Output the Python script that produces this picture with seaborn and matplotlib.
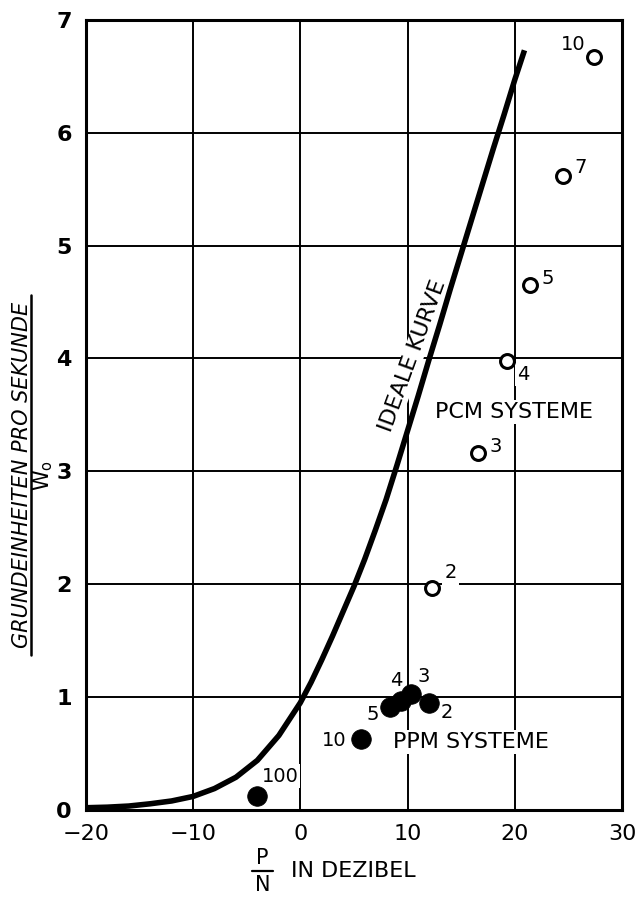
import numpy as np
import pandas as pd
import matplotlib
matplotlib.use('Agg')
import matplotlib.pyplot as plt
import seaborn as sns
from matplotlib.lines import Line2D

# ideale Kurve
curve_x = [-20, -18, -16, -14, -12, -10, -8, -6, -4, -2, 0, 1, 2, 3, 4, 5, 6, 7, 8,
           9, 10, 11, 12, 13, 14, 15, 16, 17, 18, 19, 20, 20.9]
curve_y = [0.02, 0.025, 0.035, 0.055, 0.08, 0.12, 0.19, 0.29, 0.44, 0.66, 0.95,
           1.13, 1.33, 1.54, 1.76, 1.98, 2.22, 2.48, 2.75, 3.05, 3.36, 3.67, 3.99,
           4.3, 4.62, 4.93, 5.24, 5.55, 5.86, 6.16, 6.47, 6.73]

# PCM Systeme (offene Kreise)
pcm_x = [12.3, 16.6, 19.3, 21.4, 24.5, 27.4]
pcm_y = [1.97, 3.16, 3.98, 4.65, 5.62, 6.67]
pcm_lab = ['2', '3', '4', '5', '7', '10']

# PPM Systeme (volle Punkte)
ppm_x = [12.0, 10.3, 9.4, 8.4, 5.7, -4.0]
ppm_y = [0.95, 1.03, 0.97, 0.91, 0.63, 0.12]
ppm_lab = ['2', '3', '4', '5', '10', '100']

x_ticks = [-20, -10, 0, 10, 20, 30]
y_ticks = [0, 1, 2, 3, 4, 5, 6, 7]

sns.set_theme(style='white')
plt.rcParams['font.family'] = ['DejaVu Sans']
plt.rcParams['text.color'] = 'black'
plt.rcParams['xtick.color'] = 'black'
plt.rcParams['ytick.color'] = 'black'

fig = plt.figure(figsize=(6.4, 9), dpi=100)
ax = fig.add_axes([0.134, 0.1, 0.838, 0.878])

df_curve = pd.DataFrame({'x': curve_x, 'y': curve_y})
df_pcm = pd.DataFrame({'x': pcm_x, 'y': pcm_y, 'lab': pcm_lab})
df_ppm = pd.DataFrame({'x': ppm_x, 'y': ppm_y, 'lab': ppm_lab})

# Gitter
for v in x_ticks:
    ax.axvline(v, color='black', lw=1.4, zorder=1)
for v in y_ticks:
    ax.axhline(v, color='black', lw=1.4, zorder=1)

sns.lineplot(data=df_curve, x='x', y='y', ax=ax, color='black', lw=4, zorder=5,
             sort=False, solid_capstyle='butt')
sns.scatterplot(data=df_pcm, x='x', y='y', ax=ax, s=100, facecolor='white',
                edgecolor='black', linewidth=2.2, zorder=6)
sns.scatterplot(data=df_ppm, x='x', y='y', ax=ax, s=200, color='black',
                edgecolor='black', linewidth=0.5, zorder=6)

box = dict(facecolor='white', edgecolor='none', pad=1.5)

pcm_pos = {'2': (14.0, 2.1), '3': (18.2, 3.22), '4': (20.8, 3.86),
           '5': (23.1, 4.71), '7': (26.1, 5.69), '10': (25.4, 6.78)}
for lab, (tx, ty) in pcm_pos.items():
    ax.text(tx, ty, lab, fontsize=14, ha='center', va='center', bbox=box, zorder=4)

ppm_pos = {'2': (13.7, 0.86), '3': (11.5, 1.18), '4': (8.9, 1.15),
           '5': (6.8, 0.85), '10': (3.2, 0.62), '100': (-1.9, 0.3)}
for lab, (tx, ty) in ppm_pos.items():
    ax.text(tx, ty, lab, fontsize=14, ha='center', va='center', bbox=box, zorder=4)

ax.text(19.9, 3.53, 'PCM SYSTEME', fontsize=16, ha='center', va='center', bbox=box, zorder=4)
ax.text(15.9, 0.60, 'PPM SYSTEME', fontsize=16, ha='center', va='center', bbox=box, zorder=4)
ax.text(10.5, 4.02, 'IDEALE KURVE', fontsize=16, ha='center', va='center', rotation=70,
        bbox=dict(facecolor='white', edgecolor='none', pad=0.5), zorder=4)

ax.set_xlim(-20, 30)
ax.set_ylim(0, 7)
ax.set_xticks(x_ticks)
ax.set_yticks(y_ticks)
ax.set_xticklabels(['\u221220', '\u221210', '0', '10', '20', '30'], fontsize=16)
ax.set_yticklabels([str(v) for v in y_ticks], fontsize=16, fontweight='bold')
ax.tick_params(axis='x', direction='out', length=6, width=1.4, pad=4)
ax.tick_params(axis='y', length=0, pad=10)
ax.set_xlabel('')
ax.set_ylabel('')
for sp in ax.spines.values():
    sp.set_color('black')
    sp.set_linewidth(2.2)

# y-Achsenbeschriftung als Bruch
fig.text(0.034, 0.472, 'GRUNDEINHEITEN PRO SEKUNDE', rotation=90, fontsize=15,
         style='italic', ha='center', va='center')
fig.add_artist(Line2D([0.049, 0.049], [0.272, 0.672], color='black', lw=1.8,
                      transform=fig.transFigure))
fig.text(0.068, 0.472, r'W$_\mathregular{o}$', rotation=90, fontsize=15,
         ha='center', va='center')

# x-Achsenbeschriftung als Bruch
fig.text(0.41, 0.047, 'P', fontsize=15, ha='center', va='center')
fig.add_artist(Line2D([0.393, 0.427], [0.0325, 0.0325], color='black', lw=1.6,
                      transform=fig.transFigure))
fig.text(0.41, 0.017, 'N', fontsize=15, ha='center', va='center')
fig.text(0.454, 0.0325, 'IN DEZIBEL', fontsize=16, ha='left', va='center')

fig.savefig('out.png', dpi=100, facecolor='white')
